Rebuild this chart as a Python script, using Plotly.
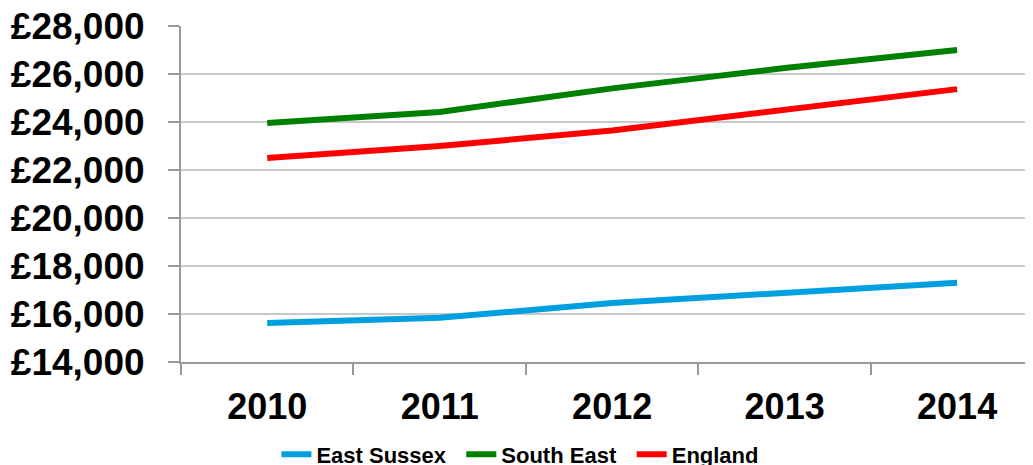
import plotly.graph_objects as go

years = ["2010", "2011", "2012", "2013", "2014"]
east_sussex = [15630, 15840, 16460, 16880, 17300]
south_east = [23960, 24420, 25400, 26250, 27000]
england = [22500, 23000, 23650, 24480, 25370]
y_ticks = [14000, 16000, 18000, 20000, 22000, 24000, 26000, 28000]
y_labels = ["£14,000", "£16,000", "£18,000", "£20,000", "£22,000", "£24,000", "£26,000", "£28,000"]

series = [("East Sussex", east_sussex, "#00A0E0", "legend", 0.112),
          ("South East", south_east, "#008000", "legend2", 0.329),
          ("England", england, "#FF0000", "legend3", 0.529)]

xpos = list(range(len(years)))
fig = go.Figure()
legend_layouts = {}
for name, vals, col, lg, lx in series:
    fig.add_trace(go.Scatter(x=xpos, y=vals, name=name, mode="lines",
                             line=dict(color=col, width=6), legend=lg))
    legend_layouts[lg] = dict(orientation="h", x=lx, xanchor="left", y=-0.275, yanchor="middle",
                              font=dict(size=22, family="Liberation Sans, Arial, sans-serif",
                                        weight="bold", color="black"),
                              itemwidth=30, bgcolor="rgba(0,0,0,0)")

# page body has an 8px margin, so the figure is placed at (8, 8)
fig.update_layout(
    width=1025, height=457,
    margin=dict(l=173, r=0, t=18, b=103, autoexpand=False),
    paper_bgcolor="white", plot_bgcolor="white",
    font=dict(family="Liberation Sans, Arial, sans-serif", color="black"),
    showlegend=True,
    **legend_layouts,
)
fig.update_xaxes(
    range=[-0.5, 4.44], tickmode="array", tickvals=xpos, ticktext=years,
    showgrid=False, zeroline=False, showline=True, linecolor="#999999", linewidth=2,
    ticks="", tickfont=dict(size=36, weight="bold"), ticklabelstandoff=12,
    ticklabeloverflow="allow",
)
fig.update_xaxes(minor=dict(tickmode="array", tickvals=[-0.5, 0.5, 1.5, 2.5, 3.5],
                            ticks="outside", ticklen=11, tickcolor="#999999", tickwidth=2))
fig.update_yaxes(
    range=[14000, 28000], tickmode="array", tickvals=y_ticks, ticktext=y_labels,
    showgrid=True, gridcolor="#C8C8C8", gridwidth=2, zeroline=False,
    showline=True, linecolor="#999999", linewidth=2,
    ticks="outside", ticklen=11, tickcolor="#999999", tickwidth=2,
    tickfont=dict(size=37, weight="bold"), ticklabelstandoff=16,
    ticklabeloverflow="allow",
)
fig.write_html("out.html")
